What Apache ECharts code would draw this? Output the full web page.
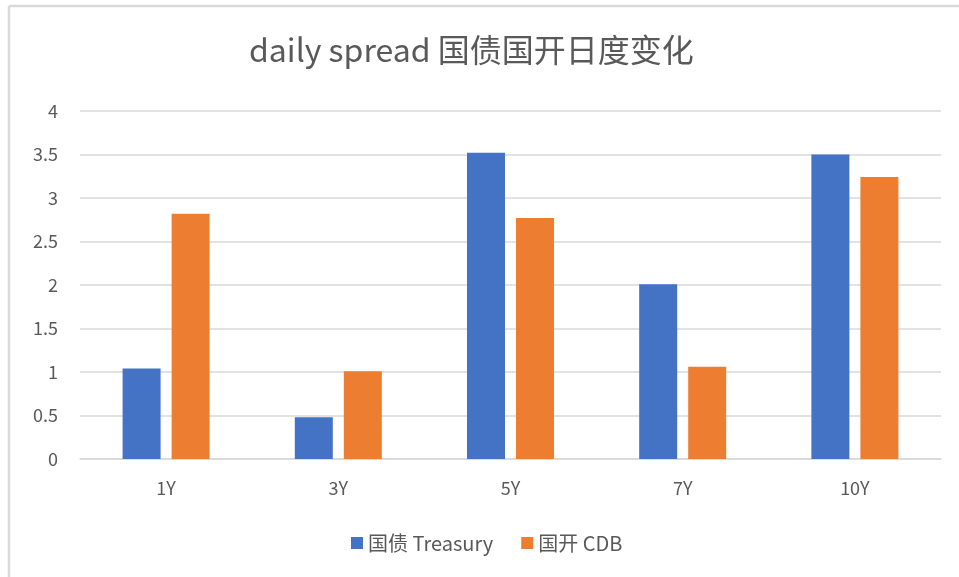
<!DOCTYPE html>
<html style="height: 100%">
<head>
  <meta charset="utf-8">
  <script type="text/javascript" src="https://cdn.jsdelivr.net/npm/echarts@6/dist/echarts.min.js"></script>
</head>
<body style="height: 100%; margin: 0; background: #fff">
  <div id="container" style="width: 959px; height: 577px"></div>
  <script type="text/javascript">
    var categories = ['1Y', '3Y', '5Y', '7Y', '10Y'];
    var treasury = [1.04, 0.48, 3.52, 2.01, 3.50];
    var cdb = [2.82, 1.01, 2.77, 1.06, 3.24];
    var yTicks = [0, 0.5, 1, 1.5, 2, 2.5, 3, 3.5, 4];

    var font = '"Noto Sans CJK SC", "Noto Sans", sans-serif';
    var myChart = echarts.init(document.getElementById('container'));

    var option = {
      animation: false,
      textStyle: { fontFamily: font },
      title: {
        text: 'daily spread 国债国开日度变化',
        left: 244,
        top: 29,
        textStyle: { fontSize: 32, fontWeight: 'normal', color: '#595959', fontFamily: font }
      },
      // chart frame (top and left edges visible)
      graphic: [
        { type: 'line', shape: { x1: 9, y1: 6, x2: 959, y2: 6 }, style: { stroke: '#d9d9d9', lineWidth: 2.5 } },
        { type: 'line', shape: { x1: 9, y1: 6, x2: 9, y2: 577 }, style: { stroke: '#d9d9d9', lineWidth: 2.5 } }
      ],
      legend: {
        bottom: 19,
        left: 346,
        itemWidth: 12,
        itemHeight: 12,
        itemGap: 28,
        icon: 'rect',
        textStyle: { fontSize: 20, color: '#595959', fontFamily: font },
        data: ['国债 Treasury', '国开 CDB']
      },
      grid: { left: 80, right: 18, top: 111, bottom: 118 },
      xAxis: {
        type: 'category',
        data: categories,
        axisLine: { lineStyle: { color: '#d9d9d9', width: 1.5 } },
        axisTick: { show: false },
        axisLabel: { fontSize: 18, color: '#595959', margin: 20 }
      },
      yAxis: {
        type: 'value',
        min: yTicks[0],
        max: yTicks[yTicks.length - 1],
        interval: 0.5,
        axisLine: { show: false },
        axisTick: { show: false },
        splitLine: { lineStyle: { color: '#d9d9d9', width: 1.5 } },
        axisLabel: { fontSize: 18, color: '#595959', margin: 22 }
      },
      series: [
        {
          name: '国债 Treasury',
          type: 'bar',
          data: treasury,
          barWidth: 38,
          barGap: '29%',
          itemStyle: { color: '#4472c4' }
        },
        {
          name: '国开 CDB',
          type: 'bar',
          data: cdb,
          barWidth: 38,
          barGap: '29%',
          itemStyle: { color: '#ed7d31' }
        }
      ]
    };

    myChart.setOption(option);
  </script>
</body>
</html>
